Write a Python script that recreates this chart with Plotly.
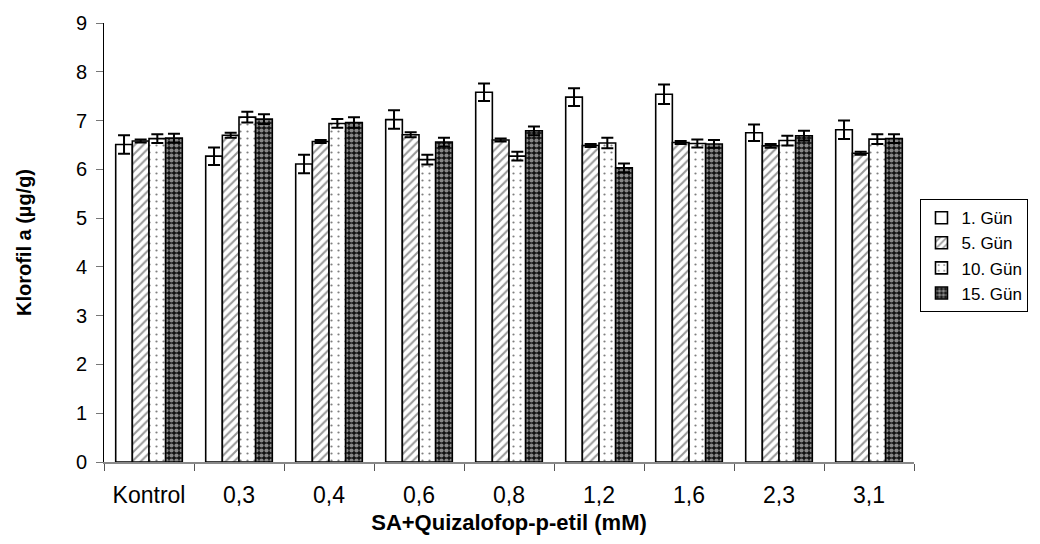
import plotly.graph_objects as go

# Chlorophyll a content per treatment and sampling day
categories = ["Kontrol", "0,3", "0,4", "0,6", "0,8", "1,2", "1,6", "2,3", "3,1"]
series_names = ["1. Gün", "5. Gün", "10. Gün", "15. Gün"]

gun1 = [6.51, 6.27, 6.11, 7.02, 7.58, 7.48, 7.54, 6.75, 6.81]
gun1_err = [0.19, 0.18, 0.19, 0.19, 0.18, 0.18, 0.20, 0.17, 0.19]
gun5 = [6.58, 6.70, 6.57, 6.71, 6.60, 6.49, 6.55, 6.48, 6.33]
gun5_err = [0.03, 0.05, 0.03, 0.05, 0.03, 0.03, 0.03, 0.04, 0.03]
gun10 = [6.63, 7.07, 6.94, 6.20, 6.27, 6.54, 6.53, 6.59, 6.62]
gun10_err = [0.09, 0.11, 0.09, 0.10, 0.09, 0.11, 0.08, 0.10, 0.10]
gun15 = [6.64, 7.03, 6.96, 6.56, 6.79, 6.03, 6.52, 6.69, 6.63]
gun15_err = [0.09, 0.10, 0.11, 0.09, 0.09, 0.09, 0.08, 0.10, 0.09]

y_ticks = [0, 1, 2, 3, 4, 5, 6, 7, 8, 9]

FONT = "Liberation Sans, Arial, sans-serif"

# fill patterns: plain, diagonal hatch, sparse dots, dark checker
patterns = [
    dict(shape=""),
    dict(shape="/", fgcolor="#333333", bgcolor="white", size=6, solidity=0.35),
    dict(shape=".", fgcolor="black", bgcolor="white", size=7, solidity=0.08),
    dict(shape=".", fgcolor="white", bgcolor="#111111", size=5, solidity=0.55),
]
values = [gun1, gun5, gun10, gun15]
errors = [gun1_err, gun5_err, gun10_err, gun15_err]

fig = go.Figure()
for name, vals, errs, pat in zip(series_names, values, errors, patterns):
    fig.add_trace(go.Bar(
        name=name,
        x=categories,
        y=vals,
        marker=dict(color="white", pattern=pat,
                    line=dict(color="black", width=1.6)),
        error_y=dict(type="data", array=errs, visible=True,
                     color="black", thickness=2, width=6),
    ))

fig.update_layout(
    width=1040,
    height=544,
    barmode="group",
    bargap=0.26,
    bargroupgap=0,
    plot_bgcolor="white",
    paper_bgcolor="white",
    margin=dict(l=104, r=109, t=14, b=82),
    font=dict(family=FONT, color="black"),
    legend=dict(
        x=1.008, xanchor="left", y=0.47, yanchor="middle",
        bordercolor="black", borderwidth=1,
        font=dict(size=17, family=FONT),
        itemwidth=30,
        tracegroupgap=0,
    ),
    xaxis=dict(
        type="category",
        tickson="boundaries",
        ticks="outside",
        ticklen=7,
        tickcolor="#555555",
        showline=True,
        linecolor="#888888",
        linewidth=2,
        tickfont=dict(size=23, family=FONT),
        ticklabelstandoff=11,
        title=dict(text="<b>SA+Quizalofop-p-etil (mM)</b>",
                   font=dict(size=22, family=FONT), standoff=8),
    ),
    yaxis=dict(
        range=[0, 9],
        tickvals=y_ticks,
        ticks="outside",
        ticklen=7,
        tickcolor="#777777",
        showline=True,
        linecolor="black",
        linewidth=1,
        showgrid=False,
        zeroline=False,
        tickfont=dict(size=20, family=FONT),
        ticklabelstandoff=5,
        title=dict(text="<b>Klorofil a (µg/g)</b>",
                   font=dict(size=20, family=FONT), standoff=38),
    ),
)

fig.write_html("out.html")
